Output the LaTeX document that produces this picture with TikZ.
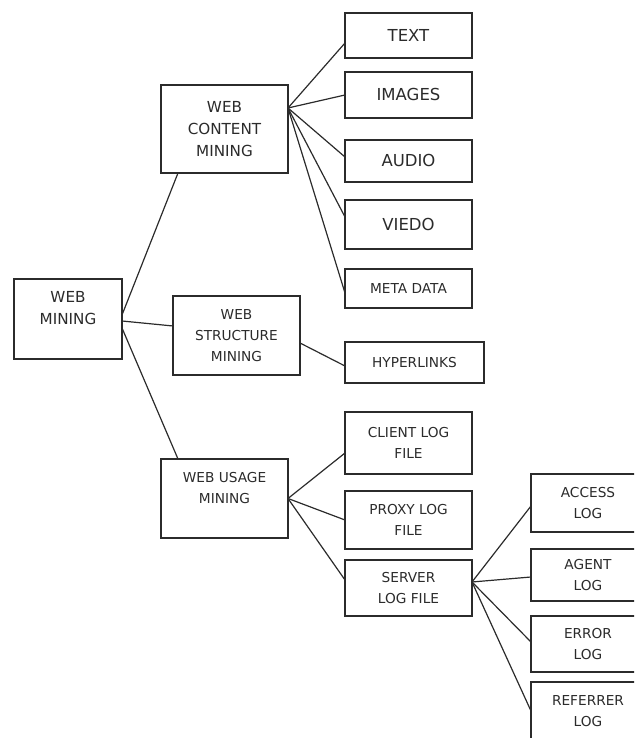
\documentclass[tikz,border=0pt]{standalone}
\usepackage{fontspec}
\setmainfont{DejaVu Sans}
\usetikzlibrary{positioning}
\definecolor{ink}{HTML}{2B2B2B}

\begin{document}
\begin{tikzpicture}[
    x=1pt, y=1pt,
    box/.style={rectangle, draw=ink, line width=1.2pt, minimum width=127pt,
                align=center, inner sep=2pt, outer sep=0pt, text=ink},
    bigtxt/.style={font=\fontsize{16.5}{22}\selectfont},
    midtxt/.style={font=\fontsize{15.2}{22}\selectfont},
    smalltxt/.style={font=\fontsize{13.7}{21}\selectfont},
    link/.style={line width=1.2pt, draw=ink}
]

\useasboundingbox (0,0) rectangle (634,738);
\clip (0,0) rectangle (634,738);

% Root
\node[box, midtxt, minimum width=108pt, minimum height=80pt] (web) at (68,419) {WEB\\MINING\\\mbox{}};

% Three kinds of mining
\node[box, midtxt, minimum height=88pt] (content) at (224.5,609) {WEB\\CONTENT\\MINING};
\node[box, smalltxt, minimum height=79pt] (structure) at (236.5,402.5) {WEB\\STRUCTURE\\MINING};
\node[box, smalltxt, minimum height=79pt] (usage) at (224.5,239.5) {WEB USAGE\\MINING\\\mbox{}};

% Content types
\node[box, bigtxt, minimum height=45pt] (text) at (408.5,702.5) {TEXT};
\node[box, bigtxt, minimum height=46pt, below=14pt of text] (images) {IMAGES};
\node[box, bigtxt, minimum height=42pt, below=22pt of images] (audio) {AUDIO};
\node[box, bigtxt, minimum height=49pt, below=18pt of audio] (video) {VIEDO};
\node[box, smalltxt, minimum height=39pt, below=20pt of video] (meta) {META DATA};

% Structure
\node[box, smalltxt, minimum width=139pt, minimum height=41pt,
      below=34pt of meta.south west, anchor=north west] (hyper) {HYPERLINKS};

% Usage log files
\node[box, smalltxt, minimum height=62pt,
      below=29pt of hyper.south west, anchor=north west] (client) {CLIENT LOG\\FILE};
\node[box, smalltxt, minimum height=58pt, below=17pt of client] (proxy) {PROXY LOG\\FILE};
\node[box, smalltxt, minimum height=56pt, below=11pt of proxy] (server) {SERVER\\LOG FILE};

% Server logs (cut by the right edge)
\node[box, smalltxt, minimum width=114pt, minimum height=58pt] (access) at (588,235) {ACCESS\\LOG};
\node[box, smalltxt, minimum width=114pt, minimum height=52pt, below=17pt of access] (agent) {AGENT\\LOG};
\node[box, smalltxt, minimum width=114pt, minimum height=56pt, below=15pt of agent] (error) {ERROR\\LOG};
\node[box, smalltxt, minimum width=114pt, minimum height=58pt, below=10pt of error] (referrer) {REFERRER\\LOG};

% Links
\draw[link] ([yshift=4pt]web.east) -- ([xshift=17pt]content.south west);
\draw[link] ([yshift=-2pt]web.east) -- ([yshift=9.5pt]structure.west);
\draw[link] ([yshift=-9pt]web.east) -- ([xshift=17pt]usage.north west);

\draw[link] ([yshift=-23pt]content.north east) -- ([yshift=-7.5pt]text.west);
\draw[link] ([yshift=-23pt]content.north east) -- (images.west);
\draw[link] ([yshift=-23pt]content.north east) -- ([yshift=4pt]audio.west);
\draw[link] ([yshift=-23pt]content.north east) -- ([yshift=7.5pt]video.west);
\draw[link] ([yshift=-23pt]content.north east) -- ([yshift=-4.5pt]meta.west);

\draw[link] ([yshift=-7.5pt]structure.east) -- ([yshift=-3.5pt]hyper.west);

\draw[link] (usage.east) -- ([yshift=-10pt]client.west);
\draw[link] (usage.east) -- (proxy.west);
\draw[link] (usage.east) -- ([yshift=8pt]server.west);

\draw[link] ([yshift=6pt]server.east) -- ([yshift=-3pt]access.west);
\draw[link] ([yshift=6pt]server.east) -- ([yshift=-2pt]agent.west);
\draw[link] ([yshift=6pt]server.east) -- ([yshift=2pt]error.west);
\draw[link] ([yshift=6pt]server.east) -- (referrer.west);

\end{tikzpicture}
\end{document}
